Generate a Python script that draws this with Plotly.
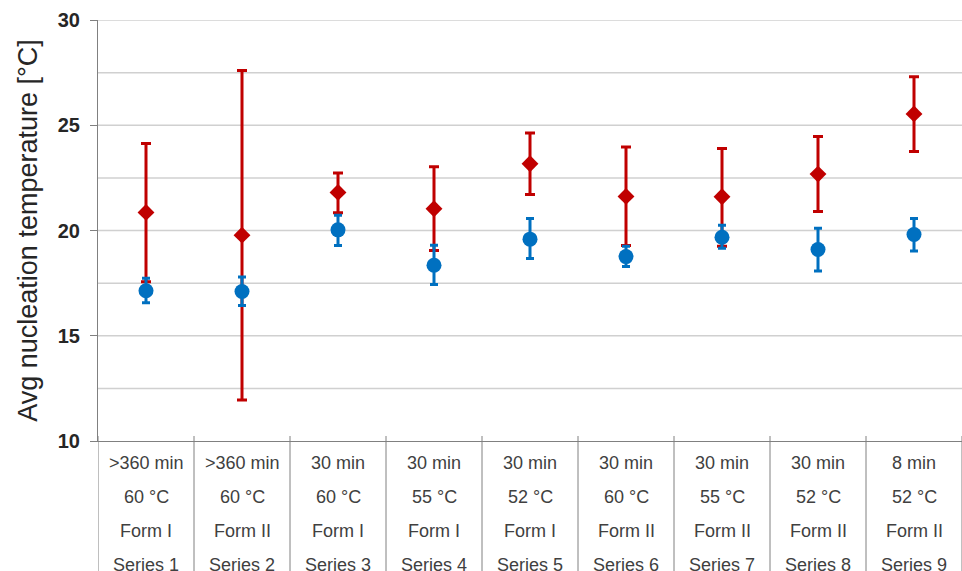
import plotly.graph_objects as go

categories = ["Series 1", "Series 2", "Series 3", "Series 4", "Series 5",
              "Series 6", "Series 7", "Series 8", "Series 9"]
label_time = [">360 min", ">360 min", "30 min", "30 min", "30 min", "30 min", "30 min", "30 min", "8 min"]
label_temp = ["60 °C", "60 °C", "60 °C", "55 °C", "52 °C", "60 °C", "55 °C", "52 °C", "52 °C"]
label_form = ["Form I", "Form II", "Form I", "Form I", "Form I", "Form II", "Form II", "Form II", "Form II"]

red_mean = [20.86, 19.78, 21.81, 21.03, 23.17, 21.62, 21.60, 22.68, 25.54]
red_high = [24.13, 27.60, 22.73, 23.03, 24.63, 23.97, 23.89, 24.46, 27.30]
red_low = [17.56, 11.95, 20.84, 19.05, 21.71, 19.29, 19.25, 20.90, 23.75]

blue_mean = [17.14, 17.10, 20.03, 18.35, 19.59, 18.76, 19.68, 19.10, 19.81]
blue_high = [17.73, 17.79, 20.73, 19.30, 20.57, 19.25, 20.25, 20.11, 20.57]
blue_low = [16.57, 16.44, 19.29, 17.43, 18.67, 18.29, 19.16, 18.08, 19.03]

y_tick_vals = [10, 15, 20, 25, 30]
grid_vals = [12.5, 15, 17.5, 20, 22.5, 25, 27.5, 30]

RED = "#C00000"
BLUE = "#0070C0"
FONT = "Liberation Sans, Arial, sans-serif"

xs = list(range(len(categories)))

fig = go.Figure()
fig.add_trace(go.Scatter(
    x=xs, y=red_mean, mode="markers",
    marker=dict(symbol="diamond", size=13, color=RED),
    error_y=dict(type="data", symmetric=False,
                 array=[h - m for h, m in zip(red_high, red_mean)],
                 arrayminus=[m - l for m, l in zip(red_mean, red_low)],
                 color=RED, thickness=3, width=5),
    showlegend=False, cliponaxis=False))
fig.add_trace(go.Scatter(
    x=xs, y=blue_mean, mode="markers",
    marker=dict(symbol="circle", size=15, color=BLUE),
    error_y=dict(type="data", symmetric=False,
                 array=[h - m for h, m in zip(blue_high, blue_mean)],
                 arrayminus=[m - l for m, l in zip(blue_mean, blue_low)],
                 color=BLUE, thickness=3, width=4),
    showlegend=False, cliponaxis=False))

W, H = 962, 571
mt, mb, ml, mr = 20, 130, 98, 0
plot_h = H - mt - mb

def py(p):
    return (H - mb - p) / plot_h

# category label annotations
rows = [label_time, label_temp, label_form, categories]
row_y = [463, 497, 531, 565]
for r, yy in zip(rows, row_y):
    for i, t in enumerate(r):
        fig.add_annotation(x=i, y=py(yy), xref="x", yref="paper", text=t,
                           showarrow=False, yanchor="middle", xanchor="center",
                           font=dict(family=FONT, size=18, color="#404040"))

# separator lines
for i in range(len(categories) + 1):
    fig.add_shape(type="line", xref="x", yref="paper",
                  x0=i - 0.5, x1=i - 0.5, y0=py(436), y1=py(580),
                  line=dict(color="#808080", width=1))

# gridlines every 2.5
for g in grid_vals:
    fig.add_shape(type="line", xref="paper", yref="y", x0=0, x1=1, y0=g, y1=g,
                  line=dict(color="#D0D0D0", width=1.5), layer="below")

fig.update_layout(
    width=W, height=H,
    margin=dict(l=ml, r=mr, t=mt, b=mb),
    paper_bgcolor="white", plot_bgcolor="white",
    font=dict(family=FONT, color="#262626"),
    xaxis=dict(range=[-0.5, 8.5], showticklabels=False, showgrid=False,
               zeroline=False, showline=True, linecolor="#808080", linewidth=1,
               ticks="", fixedrange=True),
    yaxis=dict(range=[10, 30], tickmode="array", tickvals=y_tick_vals,
               ticktext=["<b>%d</b>" % v for v in y_tick_vals],
               tickfont=dict(family=FONT, size=20, color="#262626"),
               ticks="outside", ticklen=7, tickcolor="#808080",
               ticklabelstandoff=6,
               showgrid=False, zeroline=False, showline=True,
               linecolor="#808080", linewidth=1,
               title=dict(text="Avg nucleation temperature [°C]",
                          font=dict(family=FONT, size=27, color="#262626"), standoff=12)),
)

fig.write_html("out.html", config={"displayModeBar": False},
               post_script="document.body.style.margin='0px';document.body.style.overflow='hidden';")
